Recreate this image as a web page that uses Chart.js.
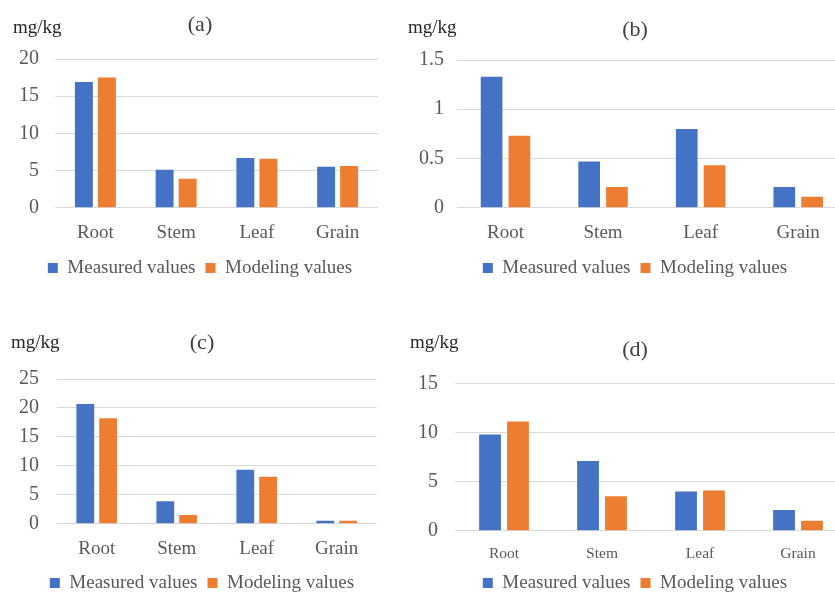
<!DOCTYPE html>
<html>
<head>
<meta charset="utf-8">
<script src="https://cdn.jsdelivr.net/npm/chart.js@4.4.1/dist/chart.umd.min.js"></script>
<style>
  html, body { margin: 0; padding: 0; background: #fff; }
  #page { position: relative; width: 835px; height: 592px; overflow: hidden; background: #fff; }
  #page canvas { position: absolute; }
</style>
</head>
<body>
<div id="page">
  <canvas id="panelA" width="400" height="300" style="left:0;top:0"></canvas>
  <canvas id="panelB" width="460" height="300" style="left:405px;top:0"></canvas>
  <canvas id="panelC" width="400" height="303" style="left:0;top:300px"></canvas>
  <canvas id="panelD" width="460" height="303" style="left:405px;top:300px"></canvas>
</div>
<script>
// Plant organs on the x axis and the two compared series
const categories = ['Root', 'Stem', 'Leaf', 'Grain'];
const seriesNames = ['Measured values', 'Modeling values'];
const unitText = 'mg/kg';
const panelTitles = ['(a)', '(b)', '(c)', '(d)'];

// Concentrations, mg/kg
const measuredA = [16.9, 5.1, 6.7, 5.5];
const modelingA = [17.5, 3.9, 6.6, 5.6];
const measuredB = [1.33, 0.47, 0.80, 0.21];
const modelingB = [0.73, 0.21, 0.43, 0.11];
const measuredC = [20.7, 3.9, 9.3, 0.5];
const modelingC = [18.2, 1.5, 8.1, 0.5];
const measuredD = [9.8, 7.1, 4.0, 2.1];
const modelingD = [11.1, 3.5, 4.1, 1.0];

// Value-axis tick labels of each panel
const ticksA = [0, 5, 10, 15, 20];
const ticksB = [0, 0.5, 1, 1.5];
const ticksC = [0, 5, 10, 15, 20, 25];
const ticksD = [0, 5, 10, 15];

const SERIF = '"Liberation Serif", "Times New Roman", serif';
const BLUE = '#4472C4';
const ORANGE = '#ED7D31';
const TEXT = '#595959';

// Unit caption drawn above the value axis
const unitLabelPlugin = {
  id: 'unitLabel',
  afterDraw(chart, args, opts) {
    const ctx = chart.ctx;
    ctx.save();
    ctx.font = '19px ' + SERIF;
    ctx.fillStyle = '#262626';
    ctx.textAlign = 'left';
    ctx.textBaseline = 'alphabetic';
    ctx.fillText(opts.text, opts.x, opts.y);
    ctx.restore();
  }
};

function makePanel(canvasId, p) {
  return new Chart(document.getElementById(canvasId), {
    type: 'bar',
    data: {
      labels: categories,
      datasets: [
        { label: seriesNames[0], data: p.measured, backgroundColor: BLUE,
          barPercentage: 0.78, categoryPercentage: 0.57 },
        { label: seriesNames[1], data: p.modeling, backgroundColor: ORANGE,
          barPercentage: 0.78, categoryPercentage: 0.57 }
      ]
    },
    options: {
      responsive: false,
      animation: false,
      devicePixelRatio: 1,
      layout: { padding: { left: p.padL, right: p.padR, top: 0, bottom: p.padB } },
      plugins: {
        title: {
          display: true, text: p.title, color: '#404040',
          font: { family: SERIF, size: 22, weight: 'normal', lineHeight: 1.2 },
          padding: { top: p.titleTop, bottom: p.titleBottom }
        },
        legend: {
          position: 'bottom',
          labels: { boxWidth: 10, boxHeight: 10, padding: 10, color: TEXT,
                    font: { family: SERIF, size: 19 } }
        },
        tooltip: { enabled: false },
        unitLabel: { text: unitText, x: p.unitX, y: p.unitY }
      },
      scales: {
        x: {
          grid: { display: false },
          border: { display: false },
          ticks: { color: TEXT, padding: p.xPad, font: { family: SERIF, size: p.xFont } },
          afterFit: s => { s.height = p.xHeight; }
        },
        y: {
          min: p.ticks[0],
          max: p.ticks[p.ticks.length - 1],
          grid: { color: '#d9d9d9', lineWidth: 1, drawTicks: false },
          border: { display: false },
          ticks: { stepSize: p.ticks[1] - p.ticks[0], padding: p.yPad, color: TEXT,
                   font: { family: SERIF, size: 20 },
                   callback: v => String(Number(v)) },
          afterFit: s => { s.width = p.yWidth; }
        },
        // empty right-hand margin between plot and chart edge
        yGap: {
          type: 'linear', position: 'right', display: true,
          grid: { display: false }, border: { display: false }, ticks: { display: false },
          afterFit: s => { s.width = p.rightGap; }
        }
      }
    },
    plugins: [unitLabelPlugin]
  });
}

makePanel('panelA', {
  title: panelTitles[0], measured: measuredA, modeling: modelingA, ticks: ticksA,
  padL: 12, padR: 12, padB: 12.5, yWidth: 43, yPad: 16, rightGap: 10,
  titleTop: 11.8, titleBottom: 20.8, xPad: 6, xFont: 19, xHeight: 40.8,
  unitX: 13, unitY: 33
});
makePanel('panelB', {
  title: panelTitles[1], measured: measuredB, modeling: modelingB, ticks: ticksB,
  padL: 3, padR: 3, padB: 12.5, yWidth: 48.7, yPad: 12.7, rightGap: 15,
  titleTop: 17.5, titleBottom: 16.1, xPad: 6, xFont: 19, xHeight: 40.8,
  unitX: 3, unitY: 33
});
makePanel('panelC', {
  title: panelTitles[2], measured: measuredC, modeling: modelingC, ticks: ticksC,
  padL: 13, padR: 9, padB: 0.5, yWidth: 43.7, yPad: 17.7, rightGap: 14.3,
  titleTop: 29.8, titleBottom: 22.8, xPad: 6, xFont: 19, xHeight: 39.8,
  unitX: 11, unitY: 48.3
});
makePanel('panelD', {
  title: panelTitles[3], measured: measuredD, modeling: modelingD, ticks: ticksD,
  padL: 5, padR: 5, padB: 0.5, yWidth: 45, yPad: 17, rightGap: 13,
  titleTop: 36.8, titleBottom: 20.1, xPad: 6, xFont: 15.5, xHeight: 32.8,
  unitX: 5, unitY: 48.3
});
</script>
</body>
</html>
